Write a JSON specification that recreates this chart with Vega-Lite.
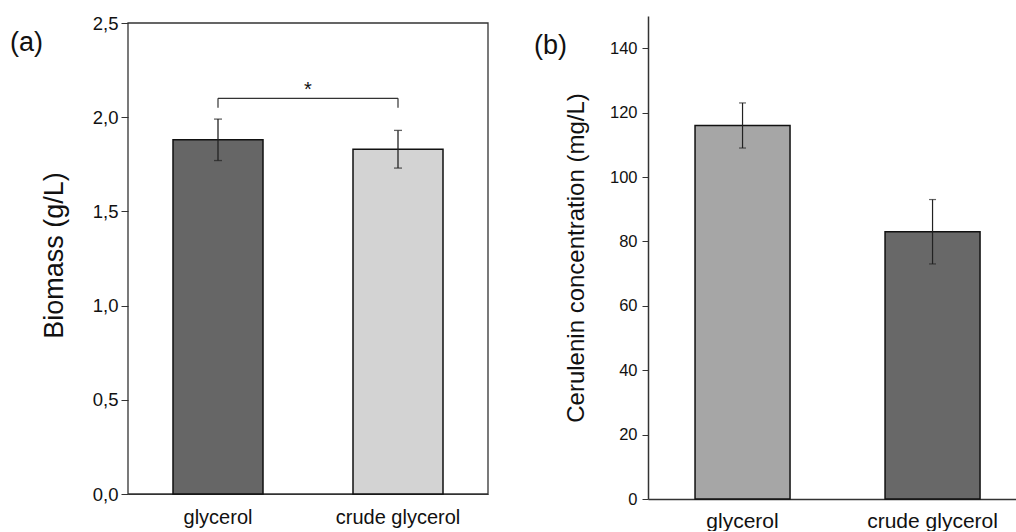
{
  "$schema": "https://vega.github.io/schema/vega-lite/v6.json",
  "padding": {"left": 10, "top": 14, "right": 0, "bottom": 0},
  "background": "white",
  "config": {
    "font": "Liberation Sans",
    "view": {"stroke": null},
    "axis": {"domainColor": "#333", "tickColor": "#333", "labelColor": "#111", "titleColor": "#111", "titleFontWeight": "normal", "grid": false, "labelFont": "Liberation Sans", "titleFont": "Liberation Sans"},
    "title": {"font": "Liberation Sans", "fontWeight": "normal", "color": "#111"}
  },
  "datasets": {
    "biomass": [
      {"medium": "glycerol", "value": 1.88, "lo": 1.77, "hi": 1.99},
      {"medium": "crude glycerol", "value": 1.83, "lo": 1.73, "hi": 1.93}
    ],
    "cerulenin": [
      {"medium": "glycerol", "value": 116, "lo": 109, "hi": 123},
      {"medium": "crude glycerol", "value": 83, "lo": 73, "hi": 93}
    ],
    "bracket": [
      {"from": "glycerol", "to": "crude glycerol", "y": 2.1}
    ],
    "legs": [
      {"medium": "glycerol", "y1": 2.05, "y2": 2.1},
      {"medium": "crude glycerol", "y1": 2.05, "y2": 2.1}
    ],
    "star": [
      {"medium": "glycerol", "y": 2.11, "label": "*"}
    ],
    "frame": [
      {"fx0": 0, "fx1": 1, "fy0": 0, "fy1": 2.5}
    ]
  },
  "spacing": 45,
  "resolve": {"scale": {"fill": "independent", "x": "independent", "y": "independent"}},
  "hconcat": [
    {
      "width": 360,
      "height": 478,
      "title": {"text": "(a)", "anchor": "start", "frame": "group", "orient": "top", "fontSize": 27, "baseline": "alphabetic", "offset": -64, "dx": -118},
      "resolve": {"scale": {"x": "independent"}, "axis": {"x": "independent"}},
      "layer": [
        {
          "data": {"name": "frame"},
          "mark": {"type": "rect", "fill": null, "fillOpacity": 0, "stroke": "#333", "strokeWidth": 1.3},
          "encoding": {
            "x": {"field": "fx0", "type": "quantitative", "scale": {"domain": [0, 1], "nice": false, "zero": false}, "axis": null},
            "x2": {"field": "fx1"},
            "y": {"field": "fy0", "type": "quantitative", "scale": {"domain": [0, 2.5372], "nice": false}},
            "y2": {"field": "fy1"}
          }
        },
        {
          "layer": [
            {
              "data": {"name": "biomass"},
              "mark": {"type": "bar", "stroke": "#111", "strokeWidth": 1.5},
              "encoding": {
                "x": {"field": "medium", "type": "nominal", "scale": {"domain": ["glycerol", "crude glycerol"], "paddingInner": 0.5, "paddingOuter": 0.25},
                      "axis": {"title": null, "labelAngle": 0, "ticks": false, "tickSize": 0, "labelPadding": 13, "labelFontSize": 20, "domainWidth": 1.2}},
                "y": {"field": "value", "type": "quantitative", "scale": {"domain": [0, 2.5372], "nice": false},
                      "axis": {"title": "Biomass (g/L)", "titleFontSize": 27, "titlePadding": 24, "values": [0, 0.5, 1, 1.5, 2, 2.5], "labelExpr": "replace(format(datum.value, '.1f'), '.', ',')", "labelFontSize": 18.5, "tickSize": 7, "labelPadding": 3, "domain": false}},
                "fill": {"field": "medium", "type": "nominal", "scale": {"domain": ["glycerol", "crude glycerol"], "range": ["#666666", "#d3d3d3"]}, "legend": null}
              }
            },
            {
              "data": {"name": "biomass"},
              "mark": {"type": "rule", "color": "#222", "strokeWidth": 1.3},
              "encoding": {
                "x": {"field": "medium", "type": "nominal"},
                "y": {"field": "lo", "type": "quantitative"},
                "y2": {"field": "hi"}
              }
            },
            {
              "data": {"name": "biomass"},
              "mark": {"type": "tick", "orient": "horizontal", "color": "#222", "size": 8, "thickness": 1.3},
              "encoding": {
                "x": {"field": "medium", "type": "nominal"},
                "y": {"field": "lo", "type": "quantitative"}
              }
            },
            {
              "data": {"name": "biomass"},
              "mark": {"type": "tick", "orient": "horizontal", "color": "#222", "size": 8, "thickness": 1.3},
              "encoding": {
                "x": {"field": "medium", "type": "nominal"},
                "y": {"field": "hi", "type": "quantitative"}
              }
            },
            {
              "data": {"name": "bracket"},
              "mark": {"type": "rule", "color": "#333", "strokeWidth": 1.2},
              "encoding": {
                "x": {"field": "from", "type": "nominal"},
                "x2": {"field": "to"},
                "y": {"field": "y", "type": "quantitative"}
              }
            },
            {
              "data": {"name": "legs"},
              "mark": {"type": "rule", "color": "#333", "strokeWidth": 1.2},
              "encoding": {
                "x": {"field": "medium", "type": "nominal"},
                "y": {"field": "y1", "type": "quantitative"},
                "y2": {"field": "y2"}
              }
            },
            {
              "data": {"name": "star"},
              "mark": {"type": "text", "fontSize": 20, "baseline": "alphabetic", "align": "center", "color": "#111"},
              "encoding": {
                "x": {"field": "medium", "type": "nominal", "bandPosition": 1.5},
                "y": {"field": "y", "type": "quantitative"},
                "text": {"field": "label"}
              }
            }
          ]
        }
      ]
    },
    {
      "width": 369,
      "height": 483,
      "title": {"text": "(b)", "anchor": "start", "frame": "group", "orient": "top", "fontSize": 27, "baseline": "alphabetic", "offset": -65, "dx": -114},
      "layer": [
        {
          "data": {"name": "cerulenin"},
          "mark": {"type": "bar", "stroke": "#111", "strokeWidth": 1.5},
          "encoding": {
            "x": {"field": "medium", "type": "nominal", "scale": {"domain": ["glycerol", "crude glycerol"], "paddingInner": 0.5, "paddingOuter": 0.221, "align": 0.56},
                  "axis": {"title": null, "labelAngle": 0, "ticks": false, "tickSize": 0, "labelPadding": 11, "labelFontSize": 21, "domainWidth": 1.5}},
            "y": {"field": "value", "type": "quantitative", "scale": {"domain": [0, 150], "nice": false},
                  "axis": {"title": "Cerulenin concentration (mg/L)", "titleFontSize": 24, "titlePadding": 21, "values": [0, 20, 40, 60, 80, 100, 120, 140], "labelFontSize": 16.5, "tickSize": 6, "labelPadding": 5, "domainWidth": 1.5}},
            "fill": {"field": "medium", "type": "nominal", "scale": {"domain": ["glycerol", "crude glycerol"], "range": ["#a6a6a6", "#686868"]}, "legend": null}
          }
        },
        {
          "data": {"name": "cerulenin"},
          "mark": {"type": "rule", "color": "#222", "strokeWidth": 1.2},
          "encoding": {
            "x": {"field": "medium", "type": "nominal"},
            "y": {"field": "lo", "type": "quantitative"},
            "y2": {"field": "hi"}
          }
        },
        {
          "data": {"name": "cerulenin"},
          "mark": {"type": "tick", "orient": "horizontal", "color": "#222", "size": 7, "thickness": 1.2},
          "encoding": {
            "x": {"field": "medium", "type": "nominal"},
            "y": {"field": "lo", "type": "quantitative"}
          }
        },
        {
          "data": {"name": "cerulenin"},
          "mark": {"type": "tick", "orient": "horizontal", "color": "#222", "size": 7, "thickness": 1.2},
          "encoding": {
            "x": {"field": "medium", "type": "nominal"},
            "y": {"field": "hi", "type": "quantitative"}
          }
        },
        {
          "mark": {"type": "rule", "color": "#333", "strokeWidth": 1.2},
          "encoding": {"y": {"datum": 150}}
        }
      ]
    }
  ]
}
